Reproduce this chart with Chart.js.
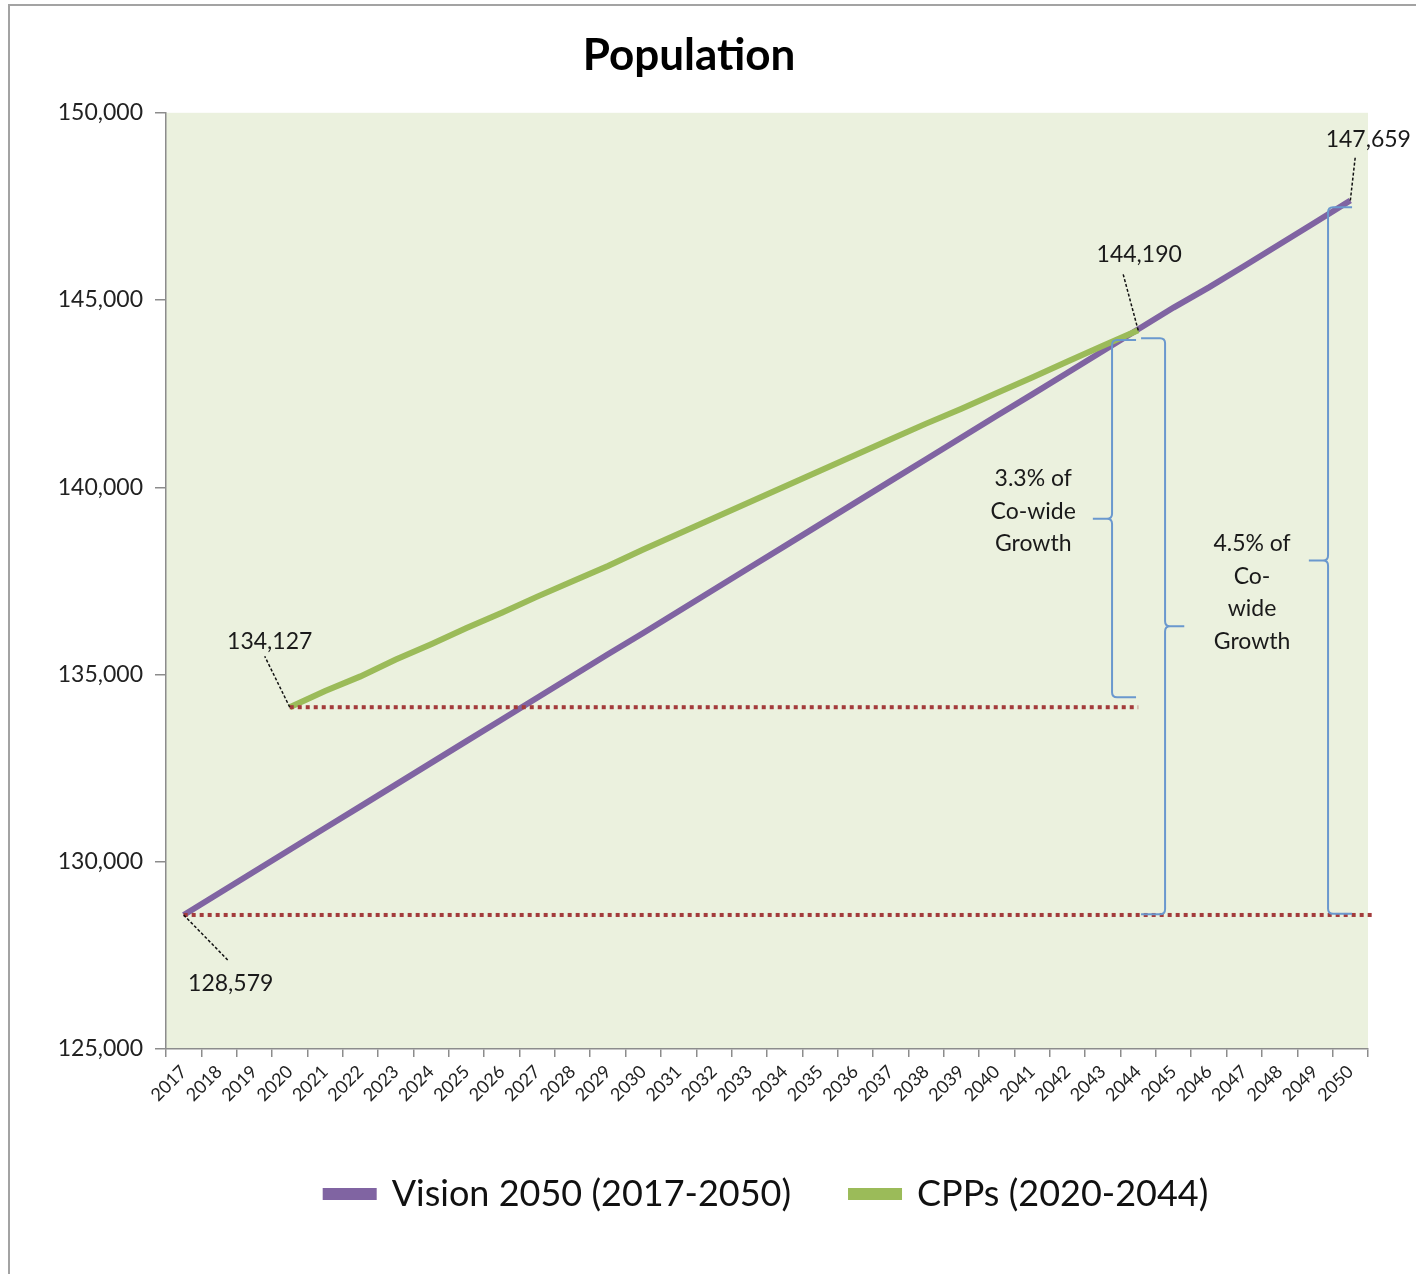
<!DOCTYPE html>
<html>
<head>
<meta charset="utf-8">
<title>Population</title>
<script src="https://cdn.jsdelivr.net/npm/chart.js@4.4.1/dist/chart.umd.min.js"></script>
<style>
  html, body { margin: 0; padding: 0; background: #fff; overflow: hidden; }
  #frame { position: absolute; left: 8px; top: 4px; width: 1430px; height: 1290px; border: 2px solid #a3a3a3; box-sizing: border-box; }
  #wrap { position: absolute; left: 0; top: 0; width: 1416px; height: 1274px; }
</style>
</head>
<body>
<div id="frame"></div>
<div id="wrap"><canvas id="popChart"></canvas></div>
<script>
const FONT = 'Lato, "Open Sans", sans-serif';

const years = ['2017', '2018', '2019', '2020', '2021', '2022', '2023', '2024', '2025', '2026',
    '2027', '2028', '2029', '2030', '2031', '2032', '2033', '2034', '2035', '2036',
    '2037', '2038', '2039', '2040', '2041', '2042', '2043', '2044', '2045', '2046',
    '2047', '2048', '2049', '2050'];

// Vision 2050, 2017-2050
const vision = [128579, 129160, 129740, 130320, 130900, 131480, 132060, 132640, 133220, 133800,
    134380, 134960, 135540, 136110, 136690, 137270, 137850, 138430, 139010, 139590,
    140170, 140750, 141330, 141910, 142480, 143060, 143640, 144220, 144800, 145340,
    145910, 146490, 147070, 147659];

// CPPs, 2020-2044
const cppStart = 3; // index of 2020 in years
const cpp = [134127, 134560, 134950, 135400, 135810, 136240, 136650, 137080, 137490, 137900,
    138340, 138760, 139180, 139600, 140020, 140440, 140860, 141280, 141700, 142100,
    142520, 142930, 143360, 143780, 144190];

const cppSeries = years.map((y, i) => (i >= cppStart && i < cppStart + cpp.length) ? cpp[i - cppStart] : null);

// curly brackets: category position, value range, side the hooks point to
const brackets = [
    { at: 26.26, from: 134390, to: 143930, side: 1 },
    { at: 27.76, from: 128600, to: 143980, side: -1 },
    { at: 32.37, from: 128610, to: 147480, side: 1 }
];

const growthNotes = [
    { at: 24.03, value: 139360, lines: ['3.3% of', 'Co-wide', 'Growth'] },
    { at: 30.22, value: 137190, lines: ['4.5% of', 'Co-', 'wide', 'Growth'] }
];

// value callouts: which point, where the label sits, where the leader stops (px offsets)
const callouts = [
    { series: 'cpp', index: 0, lx: -20, ly: -66, ex: -25, ey: -51 },
    { series: 'vision', index: 0, lx: 47, ly: 69, ex: 44, ey: 45 },
    { series: 'cpp', index: cpp.length - 1, lx: 1, ly: -76, ex: -15, ey: -56 },
    { series: 'vision', index: vision.length - 1, lx: 18, ly: -61, ex: 5, ey: -44 }
];

const annotationPlugin = {
    id: 'annotationPlugin',
    beforeDraw(chart) {
        const { ctx, chartArea } = chart;
        ctx.save();
        ctx.fillStyle = '#EBF1DE';
        ctx.fillRect(chartArea.left, chartArea.top, chartArea.right - chartArea.left, chartArea.bottom - chartArea.top);
        ctx.restore();
    },
    afterDatasetsDraw(chart) {
        const { ctx, chartArea } = chart;
        const x = chart.scales.x, y = chart.scales.y;
        ctx.save();

        // dotted reference levels
        ctx.strokeStyle = '#A33B3B';
        ctx.lineWidth = 4;
        ctx.setLineDash([4, 4]);
        const yb = y.getPixelForValue(vision[0]);
        ctx.beginPath();
        ctx.moveTo(x.getPixelForValue(0), yb);
        ctx.lineTo(chartArea.right + 4, yb);
        ctx.stroke();
        const yc = y.getPixelForValue(cpp[0]);
        ctx.beginPath();
        ctx.moveTo(x.getPixelForValue(cppStart), yc);
        ctx.lineTo(x.getPixelForValue(cppStart + cpp.length - 1), yc);
        ctx.stroke();

        // brackets
        ctx.setLineDash([]);
        ctx.strokeStyle = '#6A98CE';
        ctx.lineWidth = 2;
        brackets.forEach(b => {
            const bx = x.getPixelForValue(b.at);
            const top = y.getPixelForValue(b.to);
            const bot = y.getPixelForValue(b.from);
            const mid = (top + bot) / 2;
            const h = 24 * b.side, r = 5;
            ctx.beginPath();
            ctx.moveTo(bx + h, top);
            ctx.lineTo(bx + r * b.side, top);
            ctx.quadraticCurveTo(bx, top, bx, top + r);
            ctx.lineTo(bx, mid - r);
            ctx.quadraticCurveTo(bx, mid, bx - r * b.side, mid);
            ctx.lineTo(bx - h * 0.8, mid);
            ctx.moveTo(bx - r * b.side, mid);
            ctx.quadraticCurveTo(bx, mid, bx, mid + r);
            ctx.lineTo(bx, bot - r);
            ctx.quadraticCurveTo(bx, bot, bx + r * b.side, bot);
            ctx.lineTo(bx + h, bot);
            ctx.stroke();
        });

        // growth notes
        ctx.fillStyle = '#1a1a1a';
        ctx.font = '23px ' + FONT;
        ctx.textAlign = 'center';
        ctx.textBaseline = 'middle';
        growthNotes.forEach(n => {
            const cx = x.getPixelForValue(n.at);
            const cy = y.getPixelForValue(n.value);
            const lh = 32.5;
            n.lines.forEach((t, i) => {
                ctx.fillText(t, cx, cy + (i - (n.lines.length - 1) / 2) * lh);
            });
        });

        // callouts
        callouts.forEach(c => {
            const arr = c.series === 'cpp' ? cpp : vision;
            const idx = c.series === 'cpp' ? c.index + cppStart : c.index;
            const px = x.getPixelForValue(idx);
            const py = y.getPixelForValue(arr[c.index]);
            ctx.strokeStyle = '#111';
            ctx.lineWidth = 1.5;
            ctx.setLineDash([3, 2]);
            ctx.beginPath();
            ctx.moveTo(px, py);
            ctx.lineTo(px + c.ex, py + c.ey);
            ctx.stroke();
            ctx.fillText(arr[c.index].toLocaleString('en-US'), px + c.lx, py + c.ly);
        });
        ctx.restore();
    }
};

const ctx = document.getElementById('popChart').getContext('2d');
const popChart = new Chart(ctx, {
    type: 'line',
    data: {
        labels: years,
        datasets: [
            {
                label: 'Vision 2050 (2017-2050)',
                data: vision,
                borderColor: '#8064A2',
                backgroundColor: '#8064A2',
                borderWidth: 6,
                pointRadius: 0,
                tension: 0,
                order: 2
            },
            {
                label: 'CPPs (2020-2044)',
                data: cppSeries,
                borderColor: '#9BBB59',
                backgroundColor: '#9BBB59',
                borderWidth: 6,
                pointRadius: 0,
                tension: 0,
                order: 1
            }
        ]
    },
    options: {
        responsive: true,
        maintainAspectRatio: false,
        animation: false,
        layout: { padding: { left: 10, right: 48, top: 0, bottom: 52 } },
        plugins: {
            title: {
                display: true,
                text: 'Population',
                color: '#000',
                font: { family: FONT, size: 44, weight: 'bold' },
                padding: { top: 29, bottom: 31 }
            },
            legend: {
                position: 'bottom',
                fullSize: false,
                labels: {
                    color: '#111',
                    font: { family: FONT, size: 36 },
                    boxWidth: 48,
                    boxHeight: 6,
                    padding: 60,
                    sort: (a, b) => a.datasetIndex - b.datasetIndex
                }
            },
            tooltip: { enabled: false }
        },
        scales: {
            x: {
                offset: true,
                grid: { offset: true, drawOnChartArea: false, tickLength: 8, color: '#8c8c8c', lineWidth: 1.5 },
                border: { color: '#8c8c8c', width: 1.5 },
                ticks: {
                    autoSkip: false,
                    minRotation: 45,
                    maxRotation: 45,
                    padding: 4,
                    color: '#222',
                    font: { family: FONT, size: 18 }
                },
                afterFit: s => { s.height = 67; }
            },
            y: {
                min: 125000,
                max: 150000,
                grid: { drawOnChartArea: false, tickLength: 11, color: '#8c8c8c', lineWidth: 1.5 },
                border: { color: '#8c8c8c', width: 1.5 },
                ticks: {
                    stepSize: 5000,
                    padding: 12,
                    color: '#222',
                    font: { family: FONT, size: 23 },
                    callback: v => v.toLocaleString('en-US')
                },
                afterFit: s => { s.width = 156; }
            }
        }
    },
    plugins: [annotationPlugin]
});
</script>
</body>
</html>
